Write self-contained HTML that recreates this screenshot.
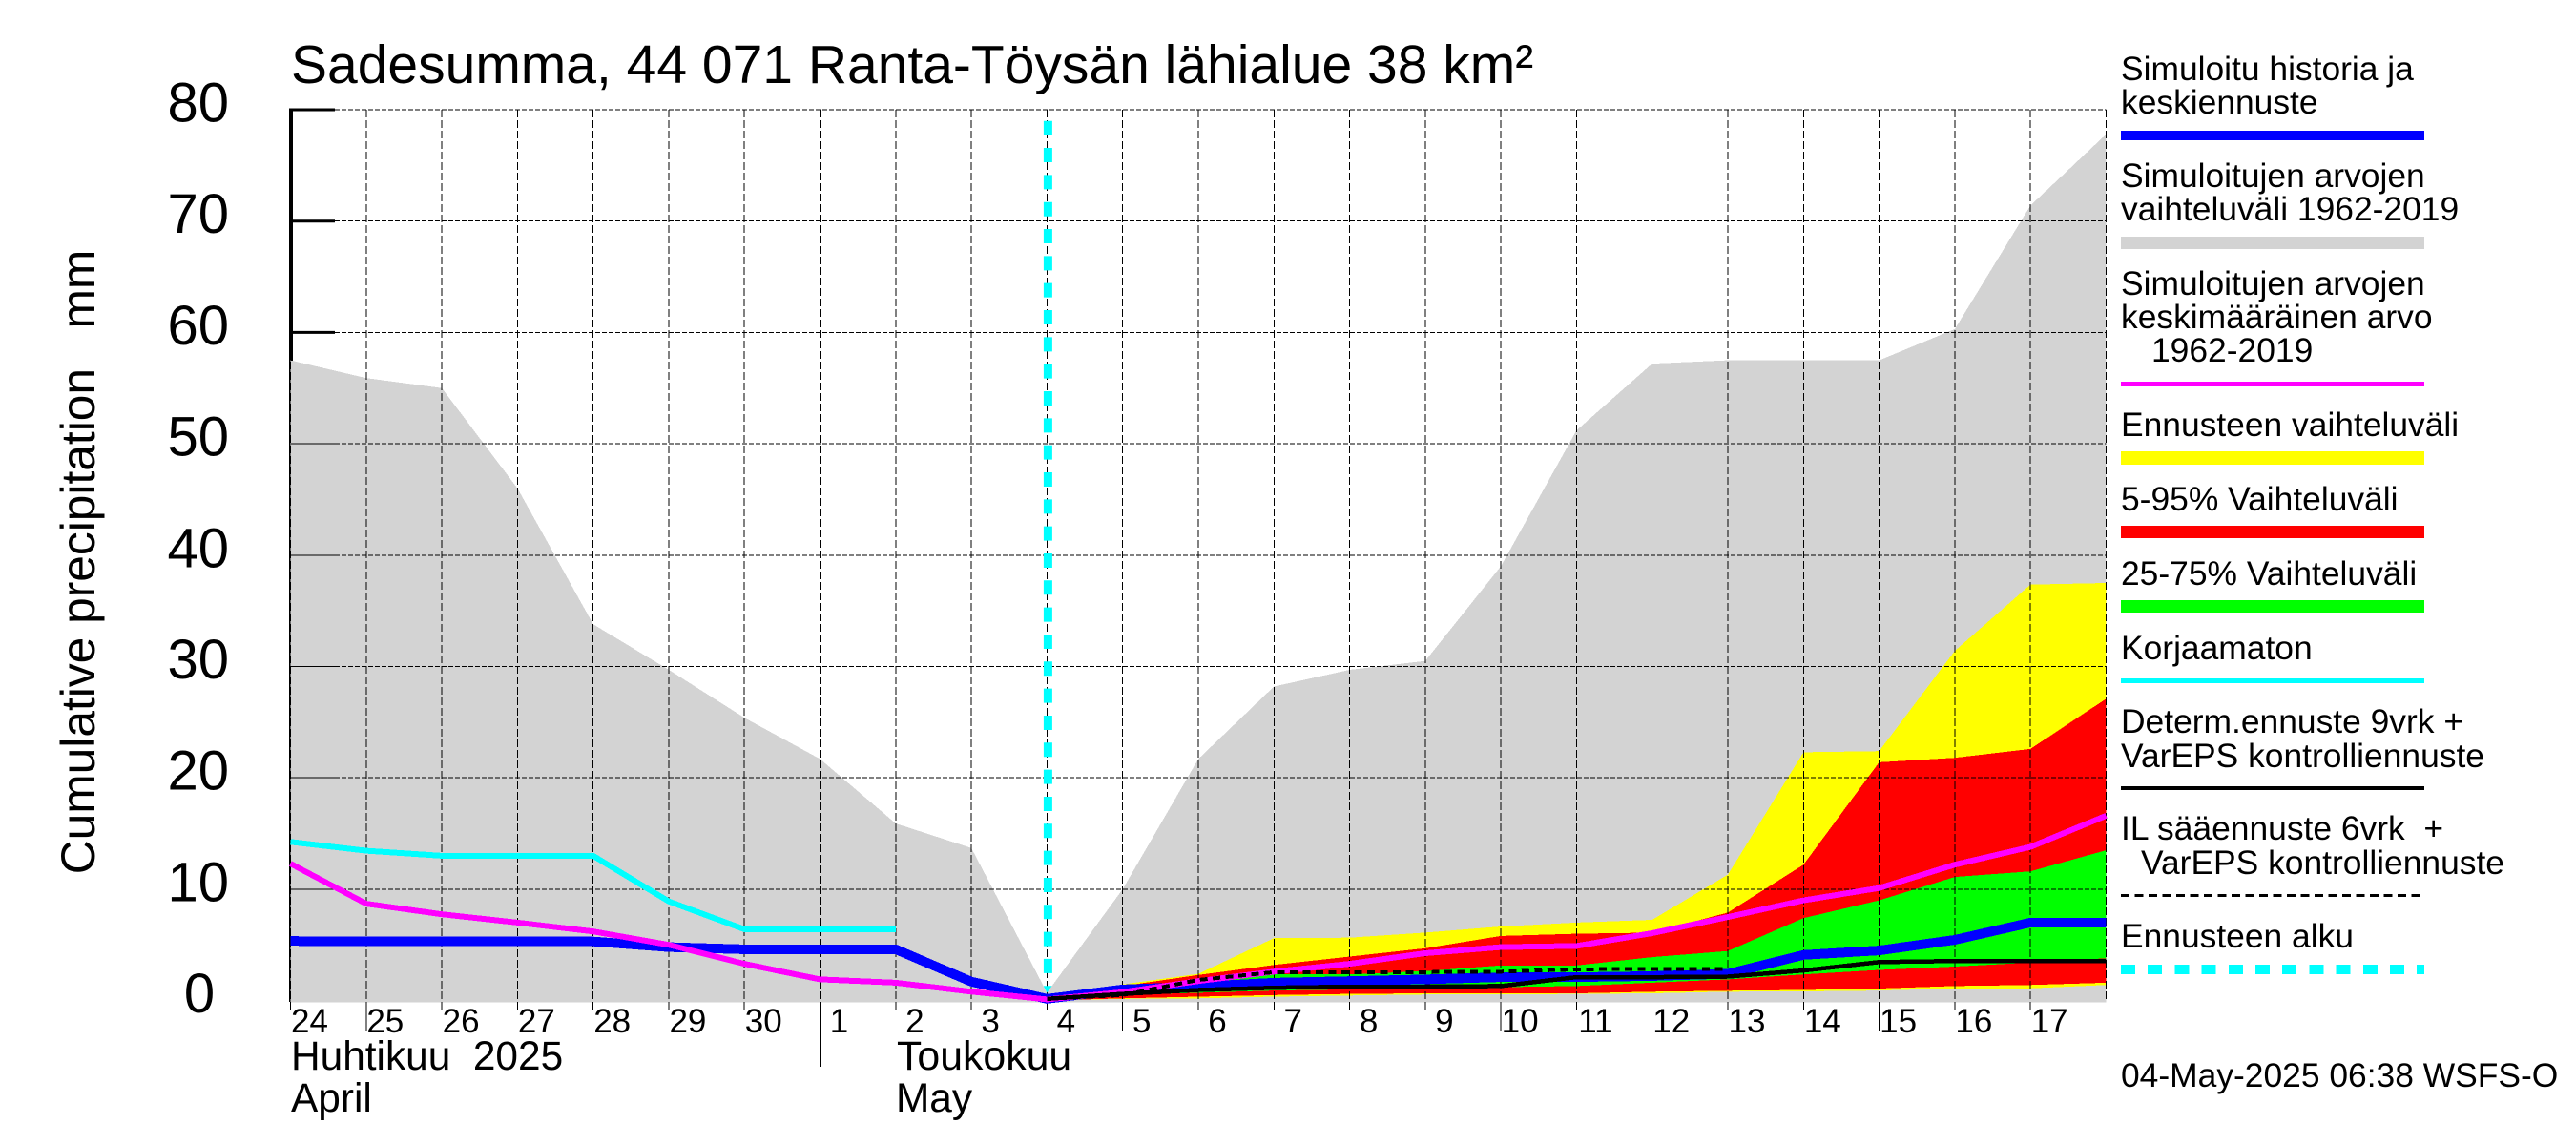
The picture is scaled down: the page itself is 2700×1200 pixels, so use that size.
<!DOCTYPE html>
<html lang="fi">
<head>
<meta charset="utf-8">
<title>Sadesumma, 44 071 Ranta-Töysän lähialue 38 km²</title>
<style>
html,body{margin:0;padding:0;background:#fff;width:2700px;height:1200px;overflow:hidden}
svg{display:block}
text{font-family:"Liberation Sans",Arial,sans-serif;fill:#000;white-space:pre}
.leg{font-size:35.4px}
</style>
</head>
<body>
<svg id="chart" xmlns="http://www.w3.org/2000/svg" width="2700" height="1200" viewBox="0 0 2700 1200">
  <rect x="0" y="0" width="2700" height="1200" fill="#fff"/>
  <text x="305" y="87" font-size="57">Sadesumma, 44 071 Ranta-Töysän lähialue 38 km²</text>
  <text transform="translate(99,589) rotate(-90)" text-anchor="middle" font-size="49.7" xml:space="preserve">Cumulative precipitation   mm</text>
  <g id="plot"></g>
  <text x="305" y="1121" font-size="42.4" xml:space="preserve">Huhtikuu  2025</text>
  <text x="305" y="1165" font-size="42.4">April</text>
  <text x="940" y="1121" font-size="42.8">Toukokuu</text>
  <text x="939" y="1165" font-size="42.4">May</text>

  <g shape-rendering="crispEdges">
    <text class="leg" x="2223" y="84">Simuloitu historia ja</text>
    <text class="leg" x="2223" y="119">keskiennuste</text>
    <rect x="2223" y="137" width="318" height="10" fill="#0000ff"/>
    <text class="leg" x="2223" y="196">Simuloitujen arvojen</text>
    <text class="leg" x="2223" y="231">vaihteluväli 1962-2019</text>
    <rect x="2223" y="248" width="318" height="13" fill="#d3d3d3"/>
    <text class="leg" x="2223" y="309">Simuloitujen arvojen</text>
    <text class="leg" x="2223" y="344">keskimääräinen arvo</text>
    <text class="leg" x="2255" y="379">1962-2019</text>
    <rect x="2223" y="400" width="318" height="5" fill="#ff00ff"/>
    <text class="leg" x="2223" y="457">Ennusteen vaihteluväli</text>
    <rect x="2223" y="473" width="318" height="14" fill="#ffff00"/>
    <text class="leg" x="2223" y="535">5-95% Vaihteluväli</text>
    <rect x="2223" y="551" width="318" height="13" fill="#ff0000"/>
    <text class="leg" x="2223" y="613">25-75% Vaihteluväli</text>
    <rect x="2223" y="629" width="318" height="13" fill="#00ff00"/>
    <text class="leg" x="2223" y="691">Korjaamaton</text>
    <rect x="2223" y="711" width="318" height="5" fill="#00ffff"/>
    <text class="leg" x="2223" y="768">Determ.ennuste 9vrk +</text>
    <text class="leg" x="2223" y="804">VarEPS kontrolliennuste</text>
    <rect x="2223" y="824" width="318" height="4" fill="#000"/>
    <text class="leg" x="2223" y="880" xml:space="preserve">IL sääennuste 6vrk  +</text>
    <text class="leg" x="2244" y="916">VarEPS kontrolliennuste</text>
    <line x1="2223" y1="938.5" x2="2541" y2="938.5" stroke="#000" stroke-width="3" stroke-dasharray="9 5.5"/>
    <text class="leg" x="2223" y="993">Ennusteen alku</text>
    <line x1="2223" y1="1016" x2="2541" y2="1016" stroke="#00ffff" stroke-width="10" stroke-dasharray="15 13.2"/>
  </g>
  <text class="leg" x="2223" y="1139">04-May-2025 06:38 WSFS-O</text>
</svg>
<script>
const dayLabels = ['24','25','26','27','28','29','30','1','2','3','4','5','6','7','8','9','10','11','12','13','14','15','16','17'];
const yTickValues = [0,10,20,30,40,50,60,70,80];
const longTickDays = ['25','5','10','15'];
const monthStartDay = '1';
const forecastStartIndex = 10;
const gridBottomValue = -0.15;

const rangeUpper = [57.5,55.9,55,46,33.8,29.7,25.4,21.7,15.9,13.7,0.7,10,21.7,28.2,29.7,30.5,39,51.2,57.2,57.5,57.5,57.5,60.3,71.4,77.8];
const meanLine = [12.3,8.7,7.75,7.0,6.2,5.0,3.3,1.9,1.6,0.8,0.1,0.75,1.75,2.6,3.3,4.25,4.8,4.9,6.05,7.5,9.0,10.1,12.2,13.8,16.6];
const simulatedLine = [5.35,5.3,5.3,5.3,5.3,4.8,4.6,4.6,4.6,1.7,0.15,1.0,1.25,1.6,1.75,1.9,2.1,2.1,2.2,2.4,4.1,4.5,5.45,7.0,7.0];
const uncorrectedLine = [14.25,13.45,13.0,13.0,13.0,8.9,6.4,6.4,6.4];

const yellowTop = [0.3,1.45,2.4,5.6,5.65,6.1,6.65,7.0,7.25,11.3,22.3,22.4,31.4,37.35,37.5];
const yellowBottom = [0,0.15,0.2,0.35,0.45,0.55,0.55,0.6,0.65,0.8,0.82,0.9,1.08,1.1,1.4];
const redTop = [0.25,1.3,2.3,3.2,3.95,4.7,5.8,6.0,6.1,7.9,12.2,21.4,21.8,22.6,27.1];
const redBottom = [0,0.2,0.35,0.5,0.6,0.65,0.65,0.65,0.8,0.88,0.95,1.08,1.3,1.4,1.6];
const greenTop = [0.2,1.0,1.75,2.35,2.35,2.65,3.15,3.15,3.9,4.45,7.4,9.0,11.1,11.6,13.5];
const greenBottom = [0.1,0.5,0.7,0.9,1.0,1.1,1.2,1.3,1.6,1.9,2.35,2.75,3.05,3.4,3.8];
const determLine = [0.15,0.6,0.95,1.15,1.25,1.25,1.3,2.1,2.1,2.15,2.7,3.45,3.55,3.55,3.55];
const ilLine = [0.15,0.5,1.85,2.55,2.55,2.55,2.6,2.8,2.85,2.85];

const SVG_NS = 'http://www.w3.org/2000/svg';
const plot = document.getElementById('plot');
function xAt(i){ return 304.5 + i * 79.29; }
function yAt(v){ return 1048.6 - v * 11.67; }

function make(tag, attrs){
  const el = document.createElementNS(SVG_NS, tag);
  for (const k in attrs) el.setAttribute(k, attrs[k]);
  plot.appendChild(el);
  return el;
}
function linePoints(values, start){
  return values.map(function(v, i){ return xAt(start + i).toFixed(1) + ',' + yAt(v).toFixed(1); }).join(' ');
}
function bandPoints(top, bottom, start){
  const up = top.map(function(v, i){ return xAt(start + i).toFixed(1) + ',' + yAt(v).toFixed(1); });
  const down = bottom.map(function(v, i){ return xAt(start + i).toFixed(1) + ',' + yAt(v).toFixed(1); }).reverse();
  return up.concat(down).join(' ');
}

/* axis */
const yAxisLine = make('line', {x1:305, y1:yAt(80)-1.5, x2:305, y2:1050, stroke:'#000', 'stroke-width':4});


yTickValues.forEach(function(v){
  if (v === 0) return;
  const t = make('line', {x1:305, y1:yAt(v), x2:351, y2:yAt(v), stroke:'#000', 'stroke-width':3});
  
  
});
yTickValues.forEach(function(v){
  const label = make('text', {x: v === 0 ? 209 : 240, y: yAt(v) + 12.5, 'font-size':58, 'text-anchor': v === 0 ? 'middle' : 'end'});
  label.textContent = String(v);
  
  
});

/* range + forecast bands */
const greyArea = make('polygon', {points: linePoints(rangeUpper, 0) + ' ' + xAt(24).toFixed(1) + ',' + yAt(gridBottomValue) + ' ' + xAt(0).toFixed(1) + ',' + yAt(gridBottomValue), fill:'#d3d3d3', 'shape-rendering':'crispEdges'});



const yellowBand = make('polygon', {points: bandPoints(yellowTop, yellowBottom, forecastStartIndex), fill:'#ffff00', 'shape-rendering':'crispEdges'});



const redBand = make('polygon', {points: bandPoints(redTop, redBottom, forecastStartIndex), fill:'#ff0000', 'shape-rendering':'crispEdges'});



const greenBand = make('polygon', {points: bandPoints(greenTop, greenBottom, forecastStartIndex), fill:'#00ff00', 'shape-rendering':'crispEdges'});



/* grid */
yTickValues.forEach(function(v){
  if (v === 0) return;
  const solid = make('line', {x1:305, y1:yAt(v), x2:351, y2:yAt(v), stroke:'#000', 'stroke-width':1, 'shape-rendering':'crispEdges'});
  
  
  const g = make('line', {x1:351, y1:yAt(v), x2:xAt(24), y2:yAt(v), stroke:'#000', 'stroke-width':1, 'stroke-dasharray':'5 2', 'shape-rendering':'crispEdges'});
  
  
});
for (let i = 0; i <= dayLabels.length; i++) {
  const g = make('line', {x1:xAt(i), y1:yAt(80), x2:xAt(i), y2: i === dayLabels.length ? 1050 : 1058, stroke:'#000', 'stroke-width':1, 'stroke-dasharray':'8 3', 'shape-rendering':'crispEdges'});
  
  
}

/* forecast-start marker: above the grid, cut off by the grey range's upper edge */
const defs = make('defs', {});
const clip = document.createElementNS(SVG_NS, 'clipPath');
clip.setAttribute('id', 'above-range');
defs.appendChild(clip);
const clipShape = document.createElementNS(SVG_NS, 'polygon');
clipShape.setAttribute('points', linePoints(rangeUpper, 0) + ' ' + xAt(24).toFixed(1) + ',0 ' + xAt(0).toFixed(1) + ',0');
clip.appendChild(clipShape);
const startLine = make('line', {x1:xAt(forecastStartIndex)+1, y1:126.7, x2:xAt(forecastStartIndex)+1, y2:1050, stroke:'#00ffff', 'stroke-width':9, 'stroke-dasharray':'15 13.33', 'clip-path':'url(#above-range)'});



/* x ticks + labels */
dayLabels.forEach(function(d, i){
  const label = make('text', {x:xAt(i) + 20, y:1082, 'font-size':35, 'text-anchor':'middle'});
  label.textContent = d;
  
  
  if (longTickDays.indexOf(d) >= 0 || d === monthStartDay) {
    const t = make('line', {x1:xAt(i), y1:1050, x2:xAt(i), y2: d === monthStartDay ? 1118 : 1080, stroke:'#000', 'stroke-width':1, 'shape-rendering':'crispEdges'});
    
    
  }
});

/* series lines */
const uncorrected = make('polyline', {points: linePoints(uncorrectedLine, 0), fill:'none', stroke:'#00ffff', 'stroke-width':6, 'stroke-linejoin':'round', 'shape-rendering':'crispEdges'});



const simulated = make('polyline', {points: linePoints(simulatedLine, 0), fill:'none', stroke:'#0000ff', 'stroke-width':10, 'stroke-linejoin':'round', 'shape-rendering':'crispEdges'});



const mean = make('polyline', {points: linePoints(meanLine, 0), fill:'none', stroke:'#ff00ff', 'stroke-width':6, 'stroke-linejoin':'round', 'shape-rendering':'crispEdges'});



const determ = make('polyline', {points: linePoints(determLine, forecastStartIndex), fill:'none', stroke:'#000', 'stroke-width':4.5, 'stroke-linejoin':'round', 'shape-rendering':'crispEdges'});



const il = make('polyline', {points: linePoints(ilLine, forecastStartIndex), fill:'none', stroke:'#000', 'stroke-width':4, 'stroke-dasharray':'8 5.5', 'shape-rendering':'crispEdges'});


</script>
</body>
</html>
